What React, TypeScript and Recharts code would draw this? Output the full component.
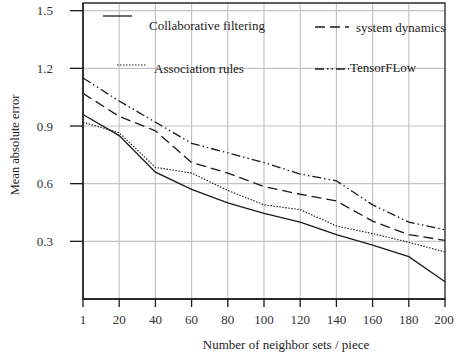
import React from 'react';
import {
    LineChart,
    Line,
    XAxis,
    YAxis,
    CartesianGrid,
    ReferenceArea
} from 'recharts';

// neighbor set sizes on the x axis
const neighborSets = ['1', '20', '40', '60', '80', '100', '120', '140', '160', '180', '200'];

// mean absolute error per method
const collaborativeFiltering = [0.96, 0.85, 0.66, 0.57, 0.5, 0.445, 0.4, 0.335, 0.28, 0.22, 0.09];
const associationRules = [0.92, 0.865, 0.685, 0.655, 0.565, 0.49, 0.465, 0.38, 0.34, 0.295, 0.245];
const systemDynamics = [1.07, 0.95, 0.875, 0.71, 0.655, 0.585, 0.545, 0.51, 0.405, 0.335, 0.305];
const tensorFlow = [1.15, 1.03, 0.92, 0.81, 0.76, 0.71, 0.65, 0.615, 0.49, 0.4, 0.36];

const yTicks = [0.3, 0.6, 0.9, 1.2, 1.5];
const yMax = 1.54;

const chartData = neighborSets.map((n, i) => ({
    n,
    cf: collaborativeFiltering[i],
    ar: associationRules[i],
    sd: systemDynamics[i],
    tf: tensorFlow[i],
}));

const FONT = '"Liberation Serif", "Times New Roman", serif';
const INK = '#1a1a1a';

const DASH_SD = '10 5';
const DASH_TF = '9 3 1.5 3 1.5 3';
const DASH_AR = '1.5 1.5';

// legend sits inside the plot, two columns of two entries (overlay, so it doesn't shrink the plot)
const LegendBox = () => (
    <svg width={456} height={80} style={{ display: 'block', position: 'absolute', left: 0, top: 0, pointerEvents: 'none' }}>
        <g fontFamily={FONT} fontSize={13} fill="#222">
            <line x1={103} y1={16} x2={132} y2={16} stroke={INK} strokeWidth={1.3} />
            <text x={149} y={25} dominantBaseline="central">Collaborative filtering</text>

            <line x1={117} y1={65} x2={147} y2={65} stroke={INK} strokeWidth={1.1} strokeDasharray={DASH_AR} />
            <text x={154} y={68} dominantBaseline="central">Association rules</text>

            <line x1={315} y1={27} x2={349} y2={27} stroke={INK} strokeWidth={1.3} strokeDasharray={DASH_SD} />
            <text x={356} y={27} dominantBaseline="central">system dynamics</text>

            <line x1={315} y1={69} x2={349} y2={69} stroke={INK} strokeWidth={1.3} strokeDasharray={DASH_TF} />
            <text x={350} y={67} dominantBaseline="central">TensorFLow</text>
        </g>
    </svg>
);

const XTick = ({ x, y, payload }: any) => (
    <text x={x} y={y} dy="0.71em" textAnchor="middle" fill="#333" fontSize={13} fontFamily={FONT}>
        {payload.value}
    </text>
);

const YTick = ({ x, y, payload }: any) => (
    <text x={x} y={y} dy="0.355em" textAnchor="end" fill="#333" fontSize={13} fontFamily={FONT}>
        {Number(payload.value).toFixed(1)}
    </text>
);

const App: React.FC = () => {
    return (
        <div style={{ position: 'absolute', left: 0, top: 0, width: 456, height: 356, background: '#fff', fontFamily: FONT }}>
            <LineChart
                width={456}
                height={356}
                data={chartData}
                margin={{ top: 3, right: 11, left: 0, bottom: 0 }}
            >
                <CartesianGrid stroke="#c4c4c4" strokeWidth={1.2} />
                <ReferenceArea
                    x1="1"
                    x2="200"
                    y1={0}
                    y2={yMax}
                    fill="none"
                    stroke="#333"
                    strokeWidth={1.3}
                />
                <XAxis
                    dataKey="n"
                    height={57}
                    tickSize={8}
                    tickMargin={8}
                    axisLine={{ stroke: INK, strokeWidth: 1.3 }}
                    tickLine={{ stroke: INK, strokeWidth: 1.3 }}
                    tick={<XTick />}
                    label={{
                        value: 'Number of neighbor sets / piece',
                        position: 'insideBottom',
                        offset: 7,
                        dx: 22,
                        fill: '#222',
                        fontSize: 13,
                        fontFamily: FONT,
                    }}
                />
                <YAxis
                    width={83}
                    domain={[0, yMax]}
                    ticks={yTicks}
                    tickSize={13}
                    tickMargin={17}
                    axisLine={{ stroke: INK, strokeWidth: 1.3 }}
                    tickLine={{ stroke: INK, strokeWidth: 1.3 }}
                    tick={<YTick />}
                    label={() => (
                        <text
                            x={15}
                            y={145}
                            transform="rotate(-90, 15, 145)"
                            textAnchor="middle"
                            dominantBaseline="central"
                            fill="#222"
                            fontSize={12.5}
                            fontFamily={FONT}
                        >
                            Mean absolute error
                        </text>
                    )}
                />
                <Line
                    type="linear"
                    dataKey="cf"
                    stroke={INK}
                    strokeWidth={1.3}
                    dot={false}
                    isAnimationActive={false}
                />
                <Line
                    type="linear"
                    dataKey="ar"
                    stroke={INK}
                    strokeWidth={1.1}
                    strokeDasharray={DASH_AR}
                    dot={false}
                    isAnimationActive={false}
                />
                <Line
                    type="linear"
                    dataKey="sd"
                    stroke={INK}
                    strokeWidth={1.3}
                    strokeDasharray={DASH_SD}
                    dot={false}
                    isAnimationActive={false}
                />
                <Line
                    type="linear"
                    dataKey="tf"
                    stroke={INK}
                    strokeWidth={1.3}
                    strokeDasharray={DASH_TF}
                    dot={false}
                    isAnimationActive={false}
                />
            </LineChart>
            <LegendBox />
        </div>
    );
};

export default App;
